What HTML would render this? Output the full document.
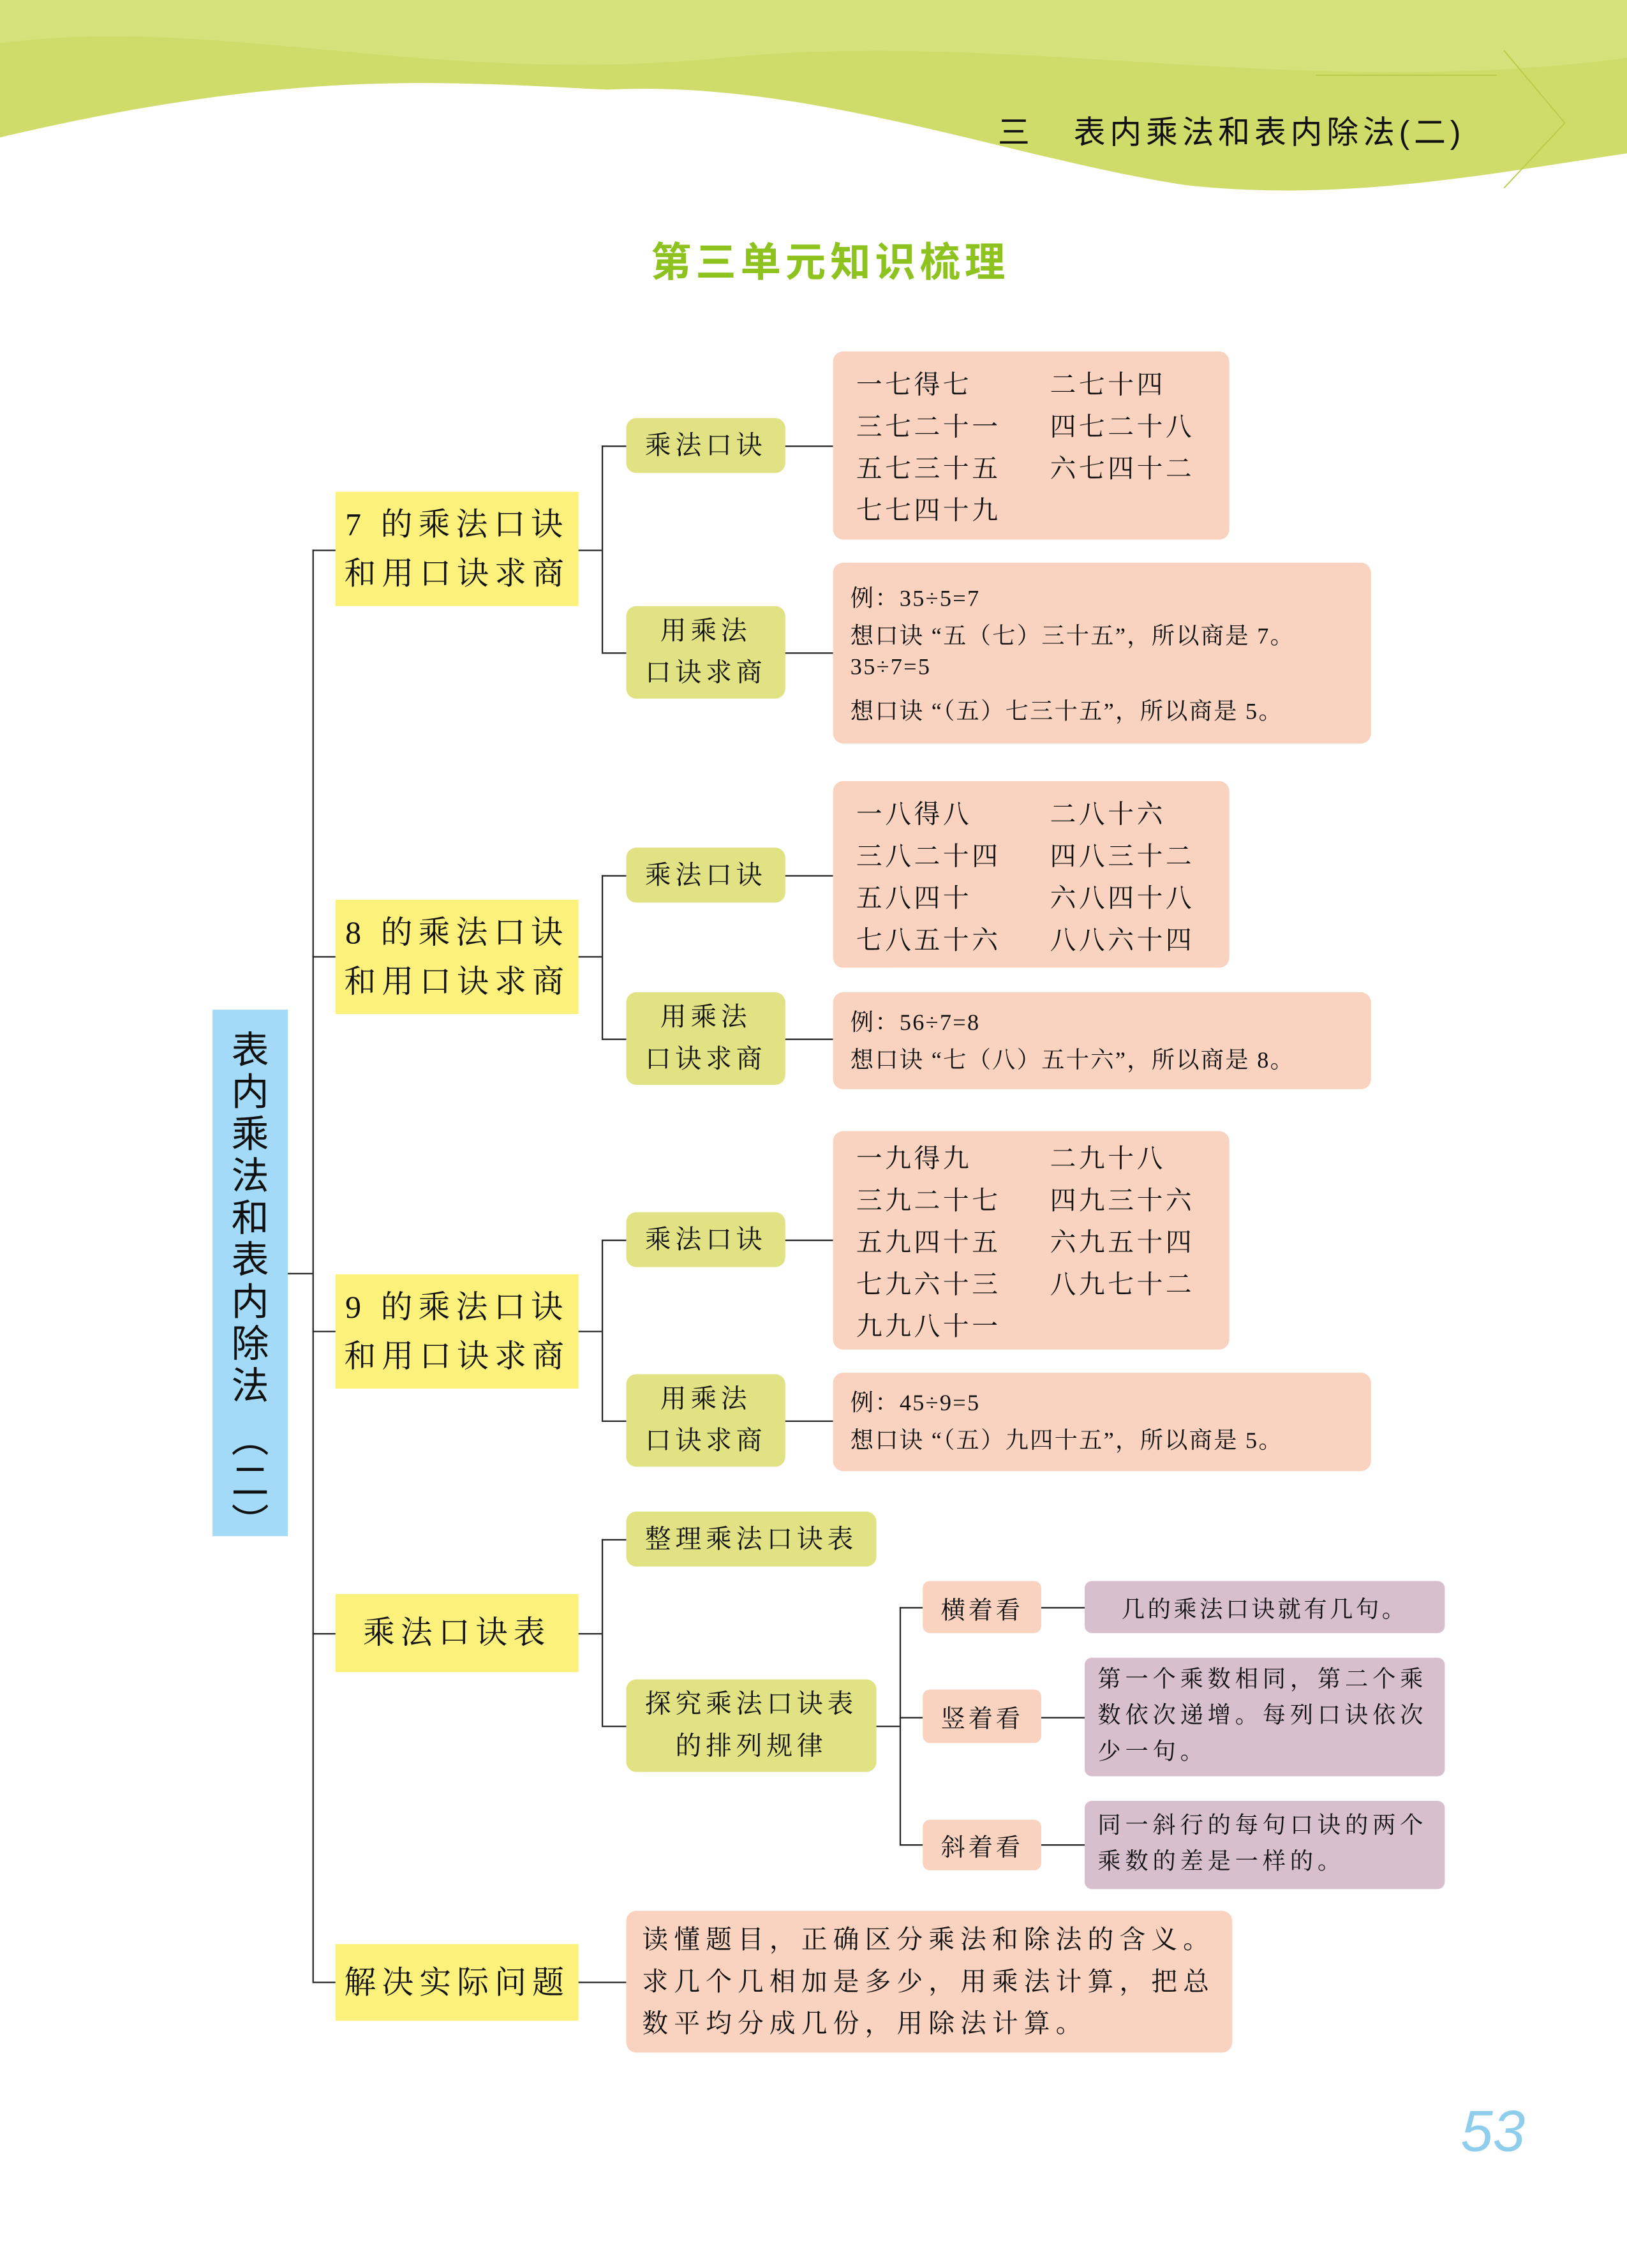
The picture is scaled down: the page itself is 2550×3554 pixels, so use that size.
<!DOCTYPE html>
<html><head><meta charset="utf-8">
<style>
html,body{margin:0;padding:0;background:#fff;}
body{width:2550px;height:3554px;overflow:hidden;position:relative;}
#c{position:absolute;left:0;top:0;width:1125px;height:1568px;transform:scale(2.266667);transform-origin:0 0;font-family:"Liberation Serif","Noto Serif CJK SC",serif;color:#111;}
.a{position:absolute;box-sizing:border-box;}
.y{background:#fbf17b;}
.o{background:#e0e284;border-radius:7px;}
.p{background:#f9d3c0;border-radius:7px;}
.u{background:#d8bfcd;border-radius:5px;}
.h{position:absolute;height:0;border-top:1px solid #222;}
.v{position:absolute;width:0;border-left:1px solid #222;}
.ct{display:flex;align-items:center;justify-content:center;text-align:center;}
.l1{font-size:22px;line-height:34px;letter-spacing:4px;}
.l2{font-size:18px;line-height:29px;letter-spacing:3px;}
.t{position:absolute;font-size:18px;letter-spacing:2px;white-space:nowrap;}
.e{position:absolute;font-size:16px;white-space:nowrap;letter-spacing:1px;}
</style></head><body>
<div id="c">
<svg class="a" style="left:0;top:0" width="1125" height="140">
<path d="M0,0 H1125 V106 C1030,120 930,140 820,128 C700,110 560,55 420,62 C300,56 200,48 0,95 Z" fill="#cfdc6a"/>
<path d="M0,0 H1125 V40 C900,70 700,20 500,40 C300,60 150,10 0,30 Z" fill="#d9e486" opacity="0.6"/>
<path d="M1040,35 L1082,85 L1040,130" fill="none" stroke="#b9c94a" stroke-width="0.8"/>
<path d="M910,52 H1035" stroke="#b9c94a" stroke-width="0.8"/>
</svg>
<div class="a" style="left:690px;top:74px;font-size:22px;white-space:nowrap;letter-spacing:3px;font-family:'Liberation Sans','Noto Sans CJK SC',sans-serif;">三&nbsp;&nbsp;&nbsp;表内乘法和表内除法(二)</div>
<div class="a" style="left:450px;top:160px;font-size:28px;font-weight:bold;color:#8dc21f;letter-spacing:3px;font-family:'Liberation Sans','Noto Sans CJK SC',sans-serif;white-space:nowrap;">第三单元知识梳理</div>

<!-- root -->
<div class="a" style="left:147px;top:698px;width:52px;height:364px;background:#a3daf7;font-size:26px;line-height:29px;text-align:center;padding-top:12px;font-family:'Noto Sans CJK SC',sans-serif;">表<br>内<br>乘<br>法<br>和<br>表<br>内<br>除<br>法<br><span style="display:block;height:8px"></span>︵<br>二<br>︶</div>
<div class="h" style="left:199px;top:880px;width:17px"></div>
<div class="v" style="left:216px;top:380px;height:990px"></div>

<!-- level1 -->
<div class="h" style="left:216px;top:380px;width:16px"></div>
<div class="h" style="left:216px;top:661px;width:16px"></div>
<div class="h" style="left:216px;top:920px;width:16px"></div>
<div class="h" style="left:216px;top:1129px;width:16px"></div>
<div class="h" style="left:216px;top:1370px;width:16px"></div>
<div class="a y ct l1" style="left:232px;top:340px;width:168px;height:79px;">7 的乘法口诀<br>和用口诀求商</div>
<div class="a y ct l1" style="left:232px;top:622px;width:168px;height:79px;">8 的乘法口诀<br>和用口诀求商</div>
<div class="a y ct l1" style="left:232px;top:881px;width:168px;height:79px;">9 的乘法口诀<br>和用口诀求商</div>
<div class="a y ct l1" style="left:232px;top:1102px;width:168px;height:54px;">乘法口诀表</div>
<div class="a y ct l1" style="left:232px;top:1344px;width:168px;height:53px;">解决实际问题</div>

<!-- branches -->
<div class="h" style="left:400px;top:380px;width:16px"></div>
<div class="v" style="left:416px;top:308px;height:143px"></div>
<div class="h" style="left:416px;top:308px;width:17px"></div>
<div class="h" style="left:416px;top:451px;width:17px"></div>

<div class="h" style="left:400px;top:661px;width:16px"></div>
<div class="v" style="left:416px;top:605px;height:113px"></div>
<div class="h" style="left:416px;top:605px;width:17px"></div>
<div class="h" style="left:416px;top:718px;width:17px"></div>

<div class="h" style="left:400px;top:920px;width:16px"></div>
<div class="v" style="left:416px;top:857px;height:125px"></div>
<div class="h" style="left:416px;top:857px;width:17px"></div>
<div class="h" style="left:416px;top:982px;width:17px"></div>

<div class="h" style="left:400px;top:1129px;width:16px"></div>
<div class="v" style="left:416px;top:1064px;height:129px"></div>
<div class="h" style="left:416px;top:1064px;width:17px"></div>
<div class="h" style="left:416px;top:1193px;width:17px"></div>

<div class="h" style="left:400px;top:1370px;width:33px"></div>

<!-- level2 -->
<div class="a o ct l2" style="left:433px;top:289px;width:110px;height:38px;">乘法口诀</div>
<div class="a o ct l2" style="left:433px;top:419px;width:110px;height:64px;">用乘法<br>口诀求商</div>
<div class="a o ct l2" style="left:433px;top:586px;width:110px;height:38px;">乘法口诀</div>
<div class="a o ct l2" style="left:433px;top:686px;width:110px;height:64px;">用乘法<br>口诀求商</div>
<div class="a o ct l2" style="left:433px;top:838px;width:110px;height:38px;">乘法口诀</div>
<div class="a o ct l2" style="left:433px;top:950px;width:110px;height:64px;">用乘法<br>口诀求商</div>
<div class="a o ct l2" style="left:433px;top:1045px;width:173px;height:38px;">整理乘法口诀表</div>
<div class="a o ct l2" style="left:433px;top:1161px;width:173px;height:64px;">探究乘法口诀表<br>的排列规律</div>

<div class="h" style="left:543px;top:308px;width:33px"></div>
<div class="h" style="left:543px;top:451px;width:33px"></div>
<div class="h" style="left:543px;top:605px;width:33px"></div>
<div class="h" style="left:543px;top:718px;width:33px"></div>
<div class="h" style="left:543px;top:857px;width:33px"></div>
<div class="h" style="left:543px;top:982px;width:33px"></div>

<!-- pink boxes -->
<div class="a p" style="left:576px;top:243px;width:274px;height:130px;"></div>
<div class="t" style="left:592px;top:252px">一七得七</div><div class="t" style="left:726px;top:252px">二七十四</div>
<div class="t" style="left:592px;top:281px">三七二十一</div><div class="t" style="left:726px;top:281px">四七二十八</div>
<div class="t" style="left:592px;top:310px">五七三十五</div><div class="t" style="left:726px;top:310px">六七四十二</div>
<div class="t" style="left:592px;top:339px">七七四十九</div>

<div class="a p" style="left:576px;top:389px;width:372px;height:125px;"></div>
<div class="e" style="left:588px;top:401px">例：35÷5=7</div>
<div class="e" style="left:588px;top:427px">想口诀 “五（七）三十五”，所以商是 7。</div>
<div class="e" style="left:588px;top:453px">35÷7=5</div>
<div class="e" style="left:588px;top:479px">想口诀 “（五）七三十五”，所以商是 5。</div>

<div class="a p" style="left:576px;top:540px;width:274px;height:129px;"></div>
<div class="t" style="left:592px;top:549px">一八得八</div><div class="t" style="left:726px;top:549px">二八十六</div>
<div class="t" style="left:592px;top:578px">三八二十四</div><div class="t" style="left:726px;top:578px">四八三十二</div>
<div class="t" style="left:592px;top:607px">五八四十</div><div class="t" style="left:726px;top:607px">六八四十八</div>
<div class="t" style="left:592px;top:636px">七八五十六</div><div class="t" style="left:726px;top:636px">八八六十四</div>

<div class="a p" style="left:576px;top:686px;width:372px;height:67px;"></div>
<div class="e" style="left:588px;top:694px">例：56÷7=8</div>
<div class="e" style="left:588px;top:720px">想口诀 “七（八）五十六”，所以商是 8。</div>

<div class="a p" style="left:576px;top:782px;width:274px;height:151px;"></div>
<div class="t" style="left:592px;top:787px">一九得九</div><div class="t" style="left:726px;top:787px">二九十八</div>
<div class="t" style="left:592px;top:816px">三九二十七</div><div class="t" style="left:726px;top:816px">四九三十六</div>
<div class="t" style="left:592px;top:845px">五九四十五</div><div class="t" style="left:726px;top:845px">六九五十四</div>
<div class="t" style="left:592px;top:874px">七九六十三</div><div class="t" style="left:726px;top:874px">八九七十二</div>
<div class="t" style="left:592px;top:903px">九九八十一</div>

<div class="a p" style="left:576px;top:949px;width:372px;height:68px;"></div>
<div class="e" style="left:588px;top:957px">例：45÷9=5</div>
<div class="e" style="left:588px;top:983px">想口诀 “（五）九四十五”，所以商是 5。</div>

<!-- group 4 -->
<div class="h" style="left:606px;top:1193px;width:16px"></div>
<div class="v" style="left:622px;top:1111px;height:164px"></div>
<div class="h" style="left:622px;top:1111px;width:16px"></div>
<div class="h" style="left:622px;top:1187px;width:16px"></div>
<div class="h" style="left:622px;top:1275px;width:16px"></div>
<div class="a p ct" style="left:638px;top:1093px;width:82px;height:36px;font-size:17px;letter-spacing:2px;border-radius:5px;">横着看</div>
<div class="a p ct" style="left:638px;top:1168px;width:82px;height:37px;font-size:17px;letter-spacing:2px;border-radius:5px;">竖着看</div>
<div class="a p ct" style="left:638px;top:1258px;width:82px;height:35px;font-size:17px;letter-spacing:2px;border-radius:5px;">斜着看</div>
<div class="h" style="left:720px;top:1111px;width:30px"></div>
<div class="h" style="left:720px;top:1187px;width:30px"></div>
<div class="h" style="left:720px;top:1275px;width:30px"></div>
<div class="a u ct" style="left:750px;top:1093px;width:249px;height:36px;font-size:16px;letter-spacing:2px;">几的乘法口诀就有几句。</div>
<div class="a u" style="left:750px;top:1146px;width:249px;height:82px;font-size:16px;line-height:25px;padding:3px 0 0 9px;letter-spacing:3px;white-space:nowrap;">第一个乘数相同，第二个乘<br>数依次递增。每列口诀依次<br>少一句。</div>
<div class="a u" style="left:750px;top:1245px;width:249px;height:61px;font-size:16px;line-height:25px;padding:5px 0 0 9px;letter-spacing:3px;white-space:nowrap;">同一斜行的每句口诀的两个<br>乘数的差是一样的。</div>

<div class="a p" style="left:433px;top:1321px;width:419px;height:98px;font-size:18px;line-height:29px;padding:6px 0 0 11px;letter-spacing:4px;white-space:nowrap;">读懂题目，正确区分乘法和除法的含义。<br>求几个几相加是多少，用乘法计算，把总<br>数平均分成几份，用除法计算。</div>

<div class="a" style="left:1010px;top:1452px;font-size:40px;color:#8fcdec;font-family:'Liberation Sans',sans-serif;font-style:italic;">53</div>
</div>
</body></html>
